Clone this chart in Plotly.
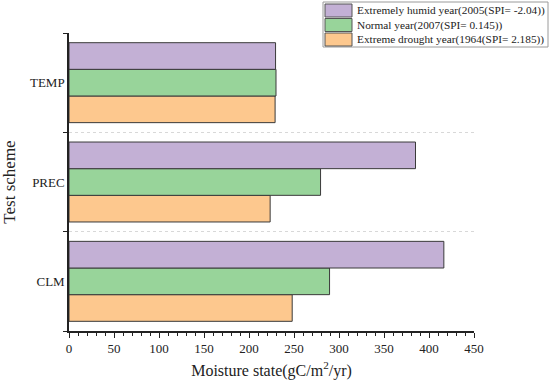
import plotly.graph_objects as go

categories = ["CLM", "PREC", "TEMP"]
drought = [248, 223.5, 229]
normal = [289.5, 279.5, 230]
humid = [416.5, 385, 229.5]

names = [
    "Extreme drought year(1964(SPI= 2.185))",
    "Normal year(2007(SPI= 0.145))",
    "Extremely humid year(2005(SPI= -2.04))",
]
colors = ["#fdc88e", "#98d49a", "#c3b0d5"]
series = [drought, normal, humid]

W, H = 550, 386
ML, MR, MT, MB = 69, 76, 33, 55
PW, PH = W - ML - MR, H - MT - MB


def px_to_paper(px, py):
    return (px - ML) / PW, (H - MB - py) / PH


fig = go.Figure()
for name, vals, col in zip(names, series, colors):
    fig.add_trace(go.Bar(
        y=categories, x=vals, name=name, orientation="h",
        marker=dict(color=col, line=dict(color="#3a3a3a", width=1)),
        showlegend=False,
    ))

font_family = "Liberation Serif"

# custom legend (box, swatches, labels) to match the reference look
shapes = []
annotations = []
x0, y0 = px_to_paper(323, 2)
x1, y1 = px_to_paper(548, 47)
shapes.append(dict(type="rect", xref="paper", yref="paper", x0=x0, x1=x1, y0=y1, y1=y0,
                   line=dict(color="#9a9a9a", width=1), fillcolor="white", layer="above"))
row_centers = [39.5, 25, 10.5]  # drought, normal, humid (pixels from top)
for name, col, cy in zip(names, colors, row_centers):
    sx0, sy0 = px_to_paper(325, cy - 6.5)
    sx1, sy1 = px_to_paper(352, cy + 6.5)
    shapes.append(dict(type="rect", xref="paper", yref="paper", x0=sx0, x1=sx1, y0=sy1, y1=sy0,
                       line=dict(color="#555", width=1), fillcolor=col, layer="above"))
    tx, ty = px_to_paper(355, cy)
    annotations.append(dict(text=name, xref="paper", yref="paper", x=tx, y=ty,
                            xanchor="left", yanchor="middle", showarrow=False,
                            font=dict(family=font_family, size=11.3, color="#222")))

fig.update_layout(
    width=W, height=H,
    margin=dict(l=ML, r=MR, t=MT, b=MB, autoexpand=False),
    barmode="group", bargap=0.195, bargroupgap=0,
    plot_bgcolor="white", paper_bgcolor="white",
    font=dict(family=font_family, size=13, color="#222"),
    showlegend=False,
    shapes=shapes,
    annotations=annotations,
    xaxis=dict(
        range=[0, 450], dtick=50, showline=True, linecolor="#222", linewidth=1.5,
        ticks="outside", ticklen=5, tickcolor="#222", showgrid=False, zeroline=False,
        minor=dict(dtick=10, ticks="outside", ticklen=3, tickcolor="#222"),
        title=dict(text="Moisture state(gC/m<sup>2</sup>/yr)", font=dict(family=font_family, size=16), standoff=9),
        tickfont=dict(family=font_family, size=13),
    ),
    yaxis=dict(
        range=[-0.5, 2.5], showline=True, linecolor="#222", linewidth=1.5,
        ticks="outside", ticklen=4, tickcolor="#222", tickson="boundaries",
        showgrid=True, gridcolor="#d8d8d8", griddash="dot", gridwidth=1,
        title=dict(text="Test scheme", font=dict(family=font_family, size=17), standoff=10),
        tickfont=dict(family=font_family, size=13),
    ),
)

fig.write_html("out.html", config={"displayModeBar": False},
               post_script="document.body.style.margin='0';")
